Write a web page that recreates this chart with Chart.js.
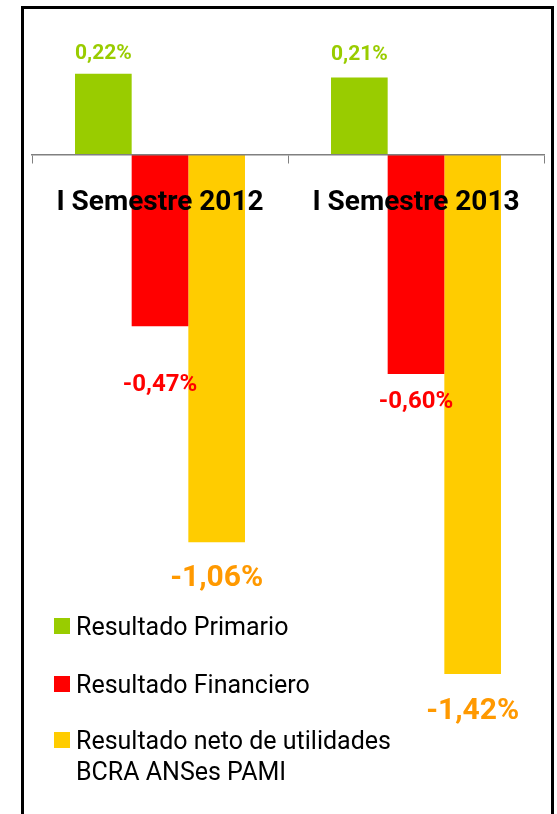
<!DOCTYPE html>
<html>
<head>
<meta charset="utf-8">
<script src="https://cdn.jsdelivr.net/npm/chart.js@4/dist/chart.umd.min.js"></script>
<style>
    body { margin: 0; background: #fff; overflow: hidden; }
    #frame {
        position: absolute; left: 21px; top: 6px;
        width: 533px; height: 900px;
        box-sizing: border-box; border: 3px solid #000;
    }
    #chart { position: absolute; left: 0; top: 0; }
</style>
</head>
<body>
<div id="frame"></div>
<canvas id="chart" width="557" height="814"></canvas>
<script>
// values (percent)
const categories = ['I Semestre 2012', 'I Semestre 2013'];
const primario = [0.22, 0.21];
const financiero = [-0.47, -0.60];
const netoUtilidades = [-1.06, -1.42];
const seriesNames = ['Resultado Primario', 'Resultado Financiero', 'Resultado neto de utilidades\nBCRA ANSes PAMI'];

const FONT = 'Roboto, "Liberation Sans", sans-serif';

// value labels above / below bars, hand placed like in the original sheet
const valueLabels = {
    id: 'valueLabels',
    afterDatasetsDraw(chart, args, opts) {
        const ctx = chart.ctx;
        ctx.save();
        ctx.textAlign = 'center';
        ctx.textBaseline = 'alphabetic';
        chart.data.datasets.forEach((ds, i) => {
            const meta = chart.getDatasetMeta(i);
            const st = opts.styles[i];
            ctx.font = 'bold ' + st.size + 'px ' + FONT;
            ctx.fillStyle = st.color;
            meta.data.forEach((bar, j) => {
                const v = ds.data[j];
                const txt = v.toFixed(2).replace('.', ',') + '%';
                const cy = bar.y + st.offsets[j];
                ctx.fillText(txt, bar.x, cy + st.size * 0.355);
            });
        });
        ctx.restore();
    }
};

// legend drawn inside the plot, lower left
const insideLegend = {
    id: 'insideLegend',
    afterDraw(chart, args, opts) {
        const ctx = chart.ctx;
        ctx.save();
        ctx.font = opts.size + 'px ' + FONT;
        ctx.textBaseline = 'alphabetic';
        ctx.textAlign = 'left';
        chart.data.datasets.forEach((ds, i) => {
            const top = opts.rows[i];
            ctx.fillStyle = ds.backgroundColor;
            ctx.fillRect(opts.x, top, opts.box, opts.box);
            ctx.fillStyle = '#000';
            ds.label.split('\n').forEach((line, k) => {
                ctx.fillText(line, opts.x + opts.box + 6, top + 17 + k * 31);
            });
        });
        ctx.restore();
    }
};

const ctx = document.getElementById('chart').getContext('2d');
const chart = new Chart(ctx, {
    type: 'bar',
    data: {
        labels: categories,
        datasets: [
            { label: seriesNames[0], data: primario, backgroundColor: '#99CC00' },
            { label: seriesNames[1], data: financiero, backgroundColor: '#FF0000' },
            { label: seriesNames[2], data: netoUtilidades, backgroundColor: '#FFCC00' }
        ]
    },
    options: {
        responsive: false,
        animation: false,
        devicePixelRatio: 1,
        layout: { padding: { left: 32, right: 13, top: 8, bottom: 1 } },
        datasets: {
            bar: { categoryPercentage: 0.664, barPercentage: 1, borderWidth: 0 }
        },
        plugins: {
            legend: { display: false },
            tooltip: { enabled: false },
            valueLabels: {
                styles: [
                    { color: '#99CC00', size: 21, offsets: [-22.5, -25] },
                    { color: '#FF0000', size: 24, offsets: [56, 26] },
                    { color: '#FF9900', size: 30, offsets: [33, 34] }
                ]
            },
            insideLegend: { x: 54, box: 16, size: 25, rows: [618, 676, 732] }
        },
        scales: {
            x: {
                position: { y: 0 },
                grid: {
                    offset: true,
                    drawOnChartArea: false,
                    drawTicks: true,
                    tickLength: 8,
                    color: '#808080',
                    lineWidth: 1
                },
                border: { display: true, color: '#808080', width: 1.5, z: 1 },
                ticks: {
                    z: 1,
                    color: '#000',
                    padding: 24,
                    maxRotation: 0,
                    font: { family: FONT, size: 28, weight: 'bold' }
                }
            },
            y: {
                display: false,
                min: -1.8,
                max: 0.4
            }
        }
    },
    plugins: [valueLabels, insideLegend]
});
</script>
</body>
</html>
